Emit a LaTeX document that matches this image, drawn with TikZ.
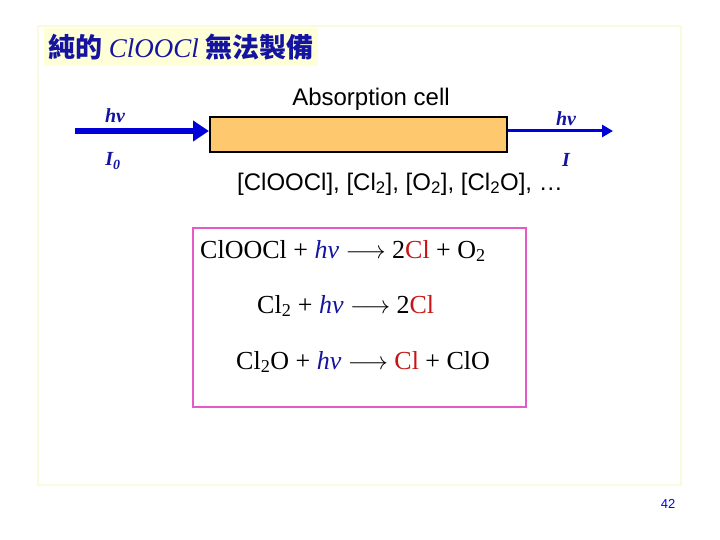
\documentclass[tikz,border=0pt]{standalone}
\usepackage{fontspec}
\setmainfont{Liberation Serif}
\setsansfont{Liberation Sans}
\newfontfamily\cjk{Noto Sans CJK TC}
\usetikzlibrary{arrows.meta}
\definecolor{hvblue}{RGB}{20,20,160}
\definecolor{clred}{RGB}{200,20,20}
\definecolor{cellfill}{RGB}{253,200,110}
\definecolor{pinkb}{RGB}{230,90,200}
\definecolor{framec}{RGB}{250,250,225}
\definecolor{titlebg}{RGB}{255,255,215}
\tikzset{
 hvlab/.style={text=hvblue,font=\fontsize{20}{24}\selectfont\itshape\bfseries},
 eq/.style={anchor=west,font=\fontsize{26}{30}\selectfont,inner sep=0pt},
 sans/.style={font=\sffamily\fontsize{24}{28}\selectfont}
}
\newcommand{\hvt}{\textcolor{hvblue}{\textit{hν}}}
\newcommand{\clr}[1]{\textcolor{clred}{#1}}
\newcommand{\arr}{\(\longrightarrow\)}
\begin{document}
\begin{tikzpicture}[x=1pt,y=-1pt]
\useasboundingbox (0,0) rectangle (720,540);
\draw[framec,line width=1.5pt] (38,26) rectangle (681,485);
\node[fill=titlebg,anchor=west,inner sep=4pt,minimum height=38,text=hvblue,font=\fontsize{27}{31}\selectfont] (title) at (44,47) {{\cjk\bfseries 純的} \textit{ClOOCl} {\cjk\bfseries 無法製備}};
\node[draw=black,line width=2pt,fill=cellfill,minimum width=297,minimum height=35,inner sep=0pt] (cell) at (358.5,134.5) {};
\coordinate (lin) at (75,131);
\coordinate (rout) at (613,131);
\draw[blue!85!black,line width=6pt,-{Triangle[length=16pt,width=20pt]}] (lin) -- (cell.west|-lin);
\draw[blue!85!black,line width=3pt,-{Triangle[length=11pt,width=12pt]}] (cell.east|-rout) -- (rout);
\node[sans] (abs) at (371,99) {Absorption cell};
\node[hvlab] (hv1) at (115,116) {hν};
\node[hvlab] (i0) at (113,161) {I\textsubscript{0}};
\node[hvlab] (hv2) at (566,119) {hν};
\node[hvlab] (i1) at (566,160) {I};
\node[sans] (spec) at (400,184) {[ClOOCl], [Cl\textsubscript{2}], [O\textsubscript{2}], [Cl\textsubscript{2}O], …};
\node[draw=pinkb,line width=1.5pt,minimum width=333,minimum height=179,inner sep=0pt] (box) at (359.5,317.5) {};
\node[eq] (e1) at (200,251) {ClOOCl + \hvt\ \arr\ 2\clr{Cl} + O\textsubscript{2}};
\node[eq] (e2) at (257,306) {Cl\textsubscript{2} + \hvt\ \arr\ 2\clr{Cl}};
\node[eq] (e3) at (236,362) {Cl\textsubscript{2}O + \hvt\ \arr\ \clr{Cl} + ClO};
\node[sans,font=\sffamily\fontsize{13}{15}\selectfont,text=blue] (pg) at (668,504) {42};
\end{tikzpicture}
\end{document}
